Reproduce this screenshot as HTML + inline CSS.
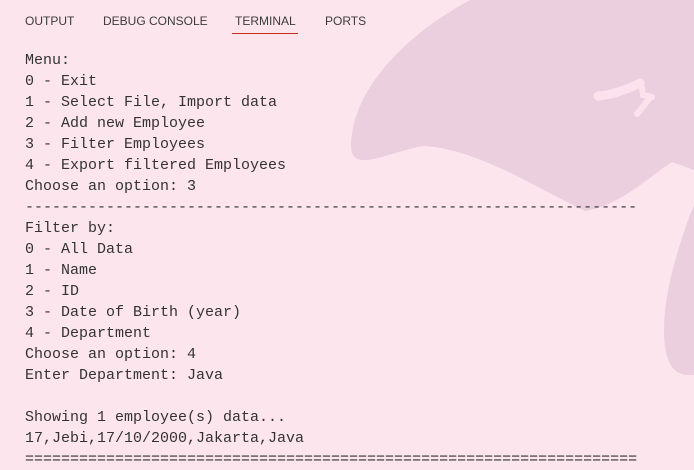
<!DOCTYPE html>
<html><head><meta charset="utf-8"><style>
html,body{margin:0;padding:0;}
body{width:694px;height:467px;overflow:hidden;background:#fde5ee;position:relative;font-family:"Liberation Mono",monospace;}
svg.bg{position:absolute;left:0;top:0;}
.tabs{position:absolute;top:14px;left:0;font-family:"Liberation Sans",sans-serif;font-size:12px;color:#3b3b3b;}
.tab{position:absolute;white-space:nowrap;top:0;}
.ul{position:absolute;left:232px;top:33px;width:66px;height:1px;background:#c42b1c;}
pre{position:absolute;left:25px;top:50px;margin:0;font-family:"Liberation Mono",monospace;font-size:15px;line-height:21px;color:#333;}
</style></head><body>
<svg class="bg" width="694" height="467" viewBox="0 0 694 467">
<path d="M470 0 C405 35 352 90 351 145 C351 162 362 162 378 158 C400 152 418 146 425 146 C480 150 540 190 585 211 C620 205 645 180 672 162 L694 170 L694 0 Z" fill="#ebcfdf"/>
<path d="M694 205 C680 240 664 290 664 330 C664 360 672 375 688 375 L694 375 Z" fill="#ebcfdf"/>
<path d="M598 96 C612 95 626 90 640 83" stroke="#fbe2ec" stroke-width="9" stroke-linecap="round" fill="none"/>
<path d="M641 83 L643 95 L652 97 M649 99 L637 114" stroke="#fbe2ec" stroke-width="6" stroke-linecap="round" fill="none"/>
</svg>
<div class="tabs">
<span class="tab" style="left:25px">OUTPUT</span>
<span class="tab" style="left:103px">DEBUG CONSOLE</span>
<span class="tab" style="left:235px">TERMINAL</span>
<span class="tab" style="left:325px">PORTS</span>
</div>
<div class="ul"></div>
<pre>Menu:
0 - Exit
1 - Select File, Import data
2 - Add new Employee
3 - Filter Employees
4 - Export filtered Employees
Choose an option: 3
--------------------------------------------------------------------
Filter by:
0 - All Data
1 - Name
2 - ID
3 - Date of Birth (year)
4 - Department
Choose an option: 4
Enter Department: Java

Showing 1 employee(s) data...
17,Jebi,17/10/2000,Jakarta,Java
====================================================================</pre>
</body></html>
